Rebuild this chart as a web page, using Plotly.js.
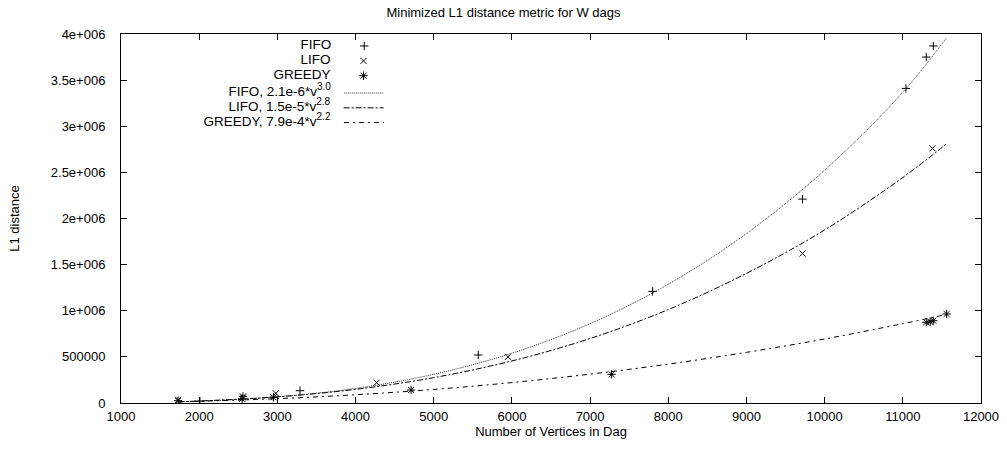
<!DOCTYPE html>
<html>
<head>
<meta charset="utf-8">
<script src="https://cdn.plot.ly/plotly-3.0.1.min.js"></script>
<style>html,body{margin:0;padding:0;background:#fff;}#chart{width:1007px;height:451px;}</style>
</head>
<body>
<div id="chart"></div>
<script>
// Measured data points (vertices, L1 distance)
var fifoX = [2010, 3290, 5570, 7800, 9717, 11040, 11300, 11390];
var fifoY = [20000, 133000, 520000, 1210000, 2210000, 3410000, 3750000, 3870000];
var lifoX = [1730, 2560, 2980, 4270, 5950, 9717, 11380];
var lifoY = [35000, 60000, 105000, 220000, 500000, 1620000, 2760000];
var greedyX = [1730, 2550, 2560, 2950, 4710, 7275, 11300, 11350, 11390, 11560];
var greedyY = [25000, 45000, 70000, 62000, 141000, 311000, 875000, 881000, 892000, 965000];

// Fitted curves
var fitX = [1730, 2000, 3000, 4000, 5000, 6000, 7000, 8000, 9000, 10000, 11000, 11560];
var fifoFitY = [12600, 19600, 66600, 158600, 311000, 540000, 860000, 1287000, 1837000, 2524000, 3368000, 3960000];
var lifoFitY = [14500, 21600, 66600, 148000, 275000, 456000, 699000, 1013000, 1405000, 1876000, 2445000, 2810000];
var greedyFitY = [13700, 19000, 47000, 89500, 147000, 221500, 313000, 421500, 549000, 694000, 860000, 960000];

// Labels
var legendLabels = ["FIFO", "LIFO", "GREEDY",
  "FIFO, 2.1e-6*v<sup><span style=\"font-size:10px\">3.0</span></sup>",
  "LIFO, 1.5e-5*v<sup><span style=\"font-size:10px\">2.8</span></sup>",
  "GREEDY, 7.9e-4*v<sup><span style=\"font-size:10px\">2.2</span></sup>"];
var xTicks = [1000, 2000, 3000, 4000, 5000, 6000, 7000, 8000, 9000, 10000, 11000, 12000];
var yTicks = [0, 500000, 1000000, 1500000, 2000000, 2500000, 3000000, 3500000, 4000000];
var yTickText = ["0", "500000", "1e+006", "1.5e+006", "2e+006", "2.5e+006", "3e+006", "3.5e+006", "4e+006"];

var FONT = "Liberation Sans, Arial, sans-serif";
var ink = "#000";

var traces = [
  {x: fifoX, y: fifoY, mode: "markers", name: "", legend: "legend",
   marker: {symbol: "cross-thin-open", size: 6, line: {color: ink, width: 1}, color: ink}},
  {x: lifoX, y: lifoY, mode: "markers", name: "", legend: "legend2",
   marker: {symbol: "x-thin-open", size: 6, line: {color: ink, width: 1}, color: ink}},
  {x: greedyX, y: greedyY, mode: "markers", name: "", legend: "legend3",
   marker: {symbol: "asterisk-open", size: 7, line: {color: ink, width: 1}, color: ink}},
  {x: fitX, y: fifoFitY, mode: "lines", name: "", legend: "legend4",
   line: {color: "#333", width: 1, dash: "1px,1px", shape: "spline"}},
  {x: fitX, y: lifoFitY, mode: "lines", name: "", legend: "legend5",
   line: {color: ink, width: 1, dash: "6px,2px,2px,2px", shape: "spline"}},
  {x: fitX, y: greedyFitY, mode: "lines", name: "", legend: "legend6",
   line: {color: ink, width: 1, dash: "5px,4px,2px,4px", shape: "spline"}}
];

var rowsY = [0.9675, 0.927, 0.887, 0.840, 0.800, 0.760];
var legendX = 0.318;
function mkLegend(i) {
  return {
    x: legendX, xanchor: "right", y: rowsY[i], yanchor: "middle",
    bgcolor: "rgba(0,0,0,0)", borderwidth: 0, itemwidth: 40,
    font: {family: FONT, size: 12, color: ink},
    title: {text: legendLabels[i], side: "left", font: {family: FONT, size: 13.5, color: ink}}
  };
}

var axisCommon = {
  showline: true, linecolor: ink, linewidth: 1, mirror: "ticks",
  ticks: "inside", ticklen: 6, tickcolor: ink, tickwidth: 1,
  showgrid: false, zeroline: false,
  tickfont: {family: FONT, size: 13, color: ink}
};

var layout = {
  width: 1007, height: 451,
  margin: {l: 121, r: 26, t: 34, b: 48, autoexpand: false},
  paper_bgcolor: "#fff", plot_bgcolor: "#fff",
  font: {family: FONT, size: 13, color: ink},
  showlegend: true,
  title: {text: "Minimized L1 distance metric for W dags", x: 0.5, xref: "container",
          y: 0.973, yref: "container", yanchor: "middle", font: {family: FONT, size: 13, color: ink}},
  xaxis: Object.assign({}, axisCommon, {
    range: [1000, 12000], tickvals: xTicks, ticktext: xTicks.map(String),
    ticklabelstandoff: 1,
    title: {text: "Number of Vertices in Dag", standoff: 4, font: {family: FONT, size: 13, color: ink}},
    automargin: false
  }),
  yaxis: Object.assign({}, axisCommon, {
    range: [0, 4000000], tickvals: yTicks, ticktext: yTickText,
    ticklabelstandoff: 12,
    title: {text: "L1 distance", standoff: 28, font: {family: FONT, size: 13, color: ink}},
    automargin: false
  }),
  legend: mkLegend(0), legend2: mkLegend(1), legend3: mkLegend(2),
  legend4: mkLegend(3), legend5: mkLegend(4), legend6: mkLegend(5)
};

Plotly.newPlot("chart", traces, layout, {displayModeBar: false, staticPlot: true});
</script>
</body>
</html>
